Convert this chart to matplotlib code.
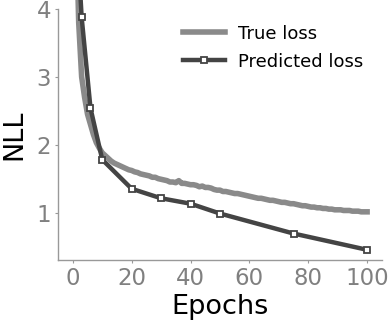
import matplotlib
matplotlib.use("Agg")
import matplotlib.pyplot as plt

# true loss, one value per epoch
true_epochs = list(range(1, 101))
true_loss = [5.5, 3.8, 3.0, 2.7, 2.45, 2.3, 2.15, 2.03, 1.95, 1.88,
             1.84, 1.80, 1.76, 1.73, 1.71, 1.69, 1.67, 1.65, 1.63, 1.62,
             1.60, 1.59, 1.57, 1.56, 1.55, 1.54, 1.52, 1.52, 1.50, 1.49,
             1.48, 1.47, 1.45, 1.45, 1.44, 1.47, 1.43, 1.43, 1.42, 1.41,
             1.41, 1.40, 1.38, 1.39, 1.37, 1.37, 1.36, 1.34, 1.33, 1.33,
             1.31, 1.31, 1.30, 1.29, 1.28, 1.28, 1.27, 1.26, 1.25, 1.24,
             1.23, 1.22, 1.21, 1.21, 1.20, 1.19, 1.18, 1.18, 1.17, 1.16,
             1.15, 1.15, 1.14, 1.13, 1.13, 1.12, 1.11, 1.10, 1.10, 1.09,
             1.08, 1.08, 1.07, 1.07, 1.06, 1.06, 1.05, 1.05, 1.04, 1.04,
             1.04, 1.03, 1.03, 1.03, 1.02, 1.02, 1.02, 1.01, 1.01, 1.01]

# predicted loss at a few checkpoints
pred_epochs = [1, 3, 6, 10, 20, 30, 40, 50, 75, 100]
pred_loss = [5.4, 3.88, 2.54, 1.78, 1.35, 1.21, 1.13, 0.985, 0.69, 0.45]

x_ticks = [0, 20, 40, 60, 80, 100]
y_ticks = [1, 2, 3, 4]

fig = plt.figure(figsize=(3.9, 3.27), dpi=100)
ax = fig.add_axes([0.149, 0.205, 0.83, 0.767])

# lines run past the top of the axes in the original, so no clipping
ax.plot(true_epochs, true_loss, color="#8a8a8a", lw=4.0, label="True loss",
        clip_on=False)
ax.plot(pred_epochs, pred_loss, color="#444444", lw=3.2, marker="s",
        markersize=4, markerfacecolor="white", markeredgecolor="#444444",
        markeredgewidth=1.3, label="Predicted loss", clip_on=False)

ax.set_xlim(-5, 105)
ax.set_ylim(0.3, 4)
ax.set_xticks(x_ticks)
ax.set_yticks(y_ticks)

for side in ["top", "right"]:
    ax.spines[side].set_visible(False)
for side in ["left", "bottom"]:
    ax.spines[side].set_color("#999999")
    ax.spines[side].set_linewidth(1.0)

ax.tick_params(colors="#999999", labelcolor="#808080", labelsize=16.5,
               length=2, pad=3)
ax.set_xlabel("Epochs", fontsize=19.5, labelpad=3)
ax.set_ylabel("NLL", fontsize=19.5, labelpad=6.5)

ax.legend(loc="upper left", bbox_to_anchor=(0.386, 0.938), frameon=False,
          fontsize=13, handlelength=2.35, handletextpad=0.7, labelspacing=0.55,
          borderpad=0, borderaxespad=0)

fig.savefig("out.png", dpi=100)
